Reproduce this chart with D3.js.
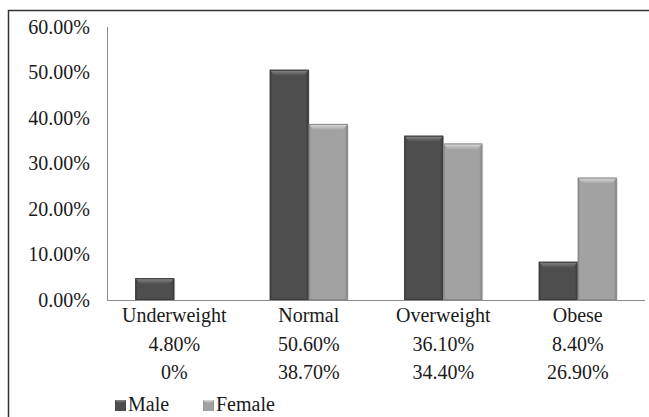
<!DOCTYPE html>
<html>
<head>
<meta charset="utf-8">
<script src="https://cdn.jsdelivr.net/npm/d3@7"></script>
<style>
  html, body { margin: 0; padding: 0; background: #fff; }
  svg { display: block; }
</style>
</head>
<body>
<svg id="chart" width="649" height="417"></svg>
<script>
// BMI category distribution by sex
const categories = ["Underweight", "Normal", "Overweight", "Obese"];
const seriesNames = ["Male", "Female"];
const maleValues = [4.8, 50.6, 36.1, 8.4];
const femaleValues = [0, 38.7, 34.4, 26.9];
const maleLabels = ["4.80%", "50.60%", "36.10%", "8.40%"];
const femaleLabels = ["0%", "38.70%", "34.40%", "26.90%"];
const yTicks = [0, 10, 20, 30, 40, 50, 60];

const FONT = "'Liberation Serif', 'Times New Roman', Times, 'DejaVu Serif', serif";

const svg = d3.select("#chart")
  .attr("font-family", FONT)
  .style("font-family", FONT);
const W = 649, H = 417;
const plot = { left: 107, right: 645, top: 27, bottom: 300 };

// Outer frame (top and left edges visible)
svg.append("path")
  .attr("d", `M8.5,${H} L8.5,10.5 L${W},10.5`)
  .attr("fill", "none").attr("stroke", "#333").attr("stroke-width", 1.5);

const x0 = d3.scaleBand().domain(categories)
  .range([plot.left, plot.right]).paddingInner(0.42).paddingOuter(0.21);
const x1 = d3.scaleBand().domain(seriesNames).range([0, x0.bandwidth()]);
const y = d3.scaleLinear().domain([0, 60]).range([plot.bottom, plot.top]);

// Gradients for bevelled bars
const defs = svg.append("defs");
function bevel(id, base, light, dark) {
  const body = defs.append("linearGradient").attr("id", id + "-body")
    .attr("x1", 0).attr("x2", 1).attr("y1", 0).attr("y2", 0);
  body.append("stop").attr("offset", "0%").attr("stop-color", dark);
  body.append("stop").attr("offset", "6%").attr("stop-color", base);
  body.append("stop").attr("offset", "92%").attr("stop-color", base);
  body.append("stop").attr("offset", "100%").attr("stop-color", dark);
  const top = defs.append("linearGradient").attr("id", id + "-top")
    .attr("x1", 0).attr("x2", 0).attr("y1", 0).attr("y2", 1);
  top.append("stop").attr("offset", "0%").attr("stop-color", light);
  top.append("stop").attr("offset", "100%").attr("stop-color", base);
}
bevel("male", "#4e4e4e", "#8a8a8a", "#3a3a3a");
bevel("female", "#a2a2a2", "#e0e0e0", "#868686");

// Y axis labels
svg.append("g").selectAll("text").data(yTicks).join("text")
  .attr("x", 90).attr("y", d => y(d)).attr("dy", "0.33em")
  .attr("text-anchor", "end").attr("font-size", 20).attr("fill", "#1a1a1a")
  .text(d => d.toFixed(2) + "%");

// Y axis line
svg.append("line")
  .attr("x1", plot.left + 0.5).attr("x2", plot.left + 0.5)
  .attr("y1", plot.top).attr("y2", plot.bottom)
  .attr("stroke", "#8c8c8c").attr("stroke-width", 1);

// Bars
const rows = categories.map((c, i) => ({
  cat: c,
  vals: [{ s: "Male", v: maleValues[i] }, { s: "Female", v: femaleValues[i] }]
}));
const groups = svg.append("g").selectAll("g").data(rows).join("g")
  .attr("transform", d => `translate(${x0(d.cat)},0)`);
const bars = groups.selectAll("g").data(d => d.vals.filter(e => e.v > 0)).join("g");
bars.append("rect")
  .attr("x", d => x1(d.s) + 1).attr("y", d => y(d.v) + 1)
  .attr("width", x1.bandwidth()).attr("height", d => y(0) - y(d.v))
  .attr("fill", "#000").attr("opacity", 0.12);
bars.append("rect")
  .attr("x", d => x1(d.s)).attr("y", d => y(d.v))
  .attr("width", x1.bandwidth()).attr("height", d => y(0) - y(d.v))
  .attr("fill", d => `url(#${d.s.toLowerCase()}-body)`);
bars.append("path")
  .attr("d", d => {
    const xl = x1(d.s), xr = xl + x1.bandwidth(), yt = y(d.v), b = Math.min(6, (y(0) - y(d.v)) / 2);
    return `M${xl},${yt} L${xr},${yt} L${xr - 5},${yt + b} L${xl + 5},${yt + b} Z`;
  })
  .attr("fill", d => `url(#${d.s.toLowerCase()}-top)`);
bars.append("rect")
  .attr("x", d => x1(d.s) + 0.5).attr("y", d => y(d.v) + 0.5)
  .attr("width", x1.bandwidth() - 1).attr("height", d => y(0) - y(d.v) - 1)
  .attr("fill", "none")
  .attr("stroke", d => d.s === "Male" ? "#3a3a3a" : "#8a8a8a").attr("stroke-width", 1);

// Baseline
svg.append("line")
  .attr("x1", plot.left).attr("x2", plot.right)
  .attr("y1", plot.bottom + 0.5).attr("y2", plot.bottom + 0.5)
  .attr("stroke", "#8c8c8c").attr("stroke-width", 1);

// Category labels and data table
const cx = c => x0(c) + x0.bandwidth() / 2;
const table = svg.append("g").attr("font-size", 20).attr("text-anchor", "middle").attr("fill", "#1a1a1a");
table.selectAll("text.cat").data(categories).join("text").attr("class", "cat")
  .attr("x", cx).attr("y", 322).text(d => d);
table.selectAll("text.m").data(categories).join("text").attr("class", "m")
  .attr("x", cx).attr("y", 351).text((d, i) => maleLabels[i]);
table.selectAll("text.f").data(categories).join("text").attr("class", "f")
  .attr("x", cx).attr("y", 379).text((d, i) => femaleLabels[i]);

// Legend
const legend = svg.append("g");
const legendX = [115, 203];
seriesNames.forEach((s, i) => {
  const g = legend.append("g").attr("transform", `translate(${legendX[i]},400)`);
  g.append("rect").attr("width", 11).attr("height", 11)
    .attr("fill", `url(#${s.toLowerCase()}-body)`);
  g.append("path").attr("d", "M0,0 L11,0 L8,3 L3,3 Z")
    .attr("fill", `url(#${s.toLowerCase()}-top)`);
  g.append("text").attr("x", 13).attr("y", 11).attr("font-size", 20).attr("fill", "#1a1a1a").text(s);
});
</script>
</body>
</html>
